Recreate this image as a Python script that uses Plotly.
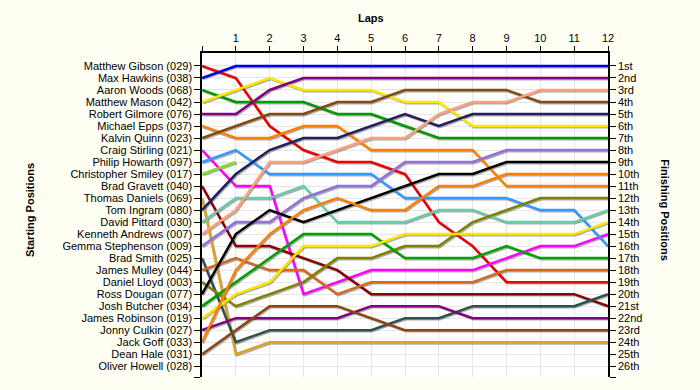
import plotly.graph_objects as go

laps = list(range(13))
lap_labels = [""] + [str(i) for i in range(1, 13)]

drivers = [
    "Matthew Gibson (029)", "Max Hawkins (038)", "Aaron Woods (068)", "Matthew Mason (042)",
    "Robert Gilmore (076)", "Michael Epps (037)", "Kalvin Quinn (023)", "Craig Stirling (021)",
    "Philip Howarth (097)", "Christopher Smiley (017)", "Brad Gravett (040)", "Thomas Daniels (069)",
    "Tom Ingram (080)", "David Pittard (030)", "Kenneth Andrews (007)", "Gemma Stephenson (009)",
    "Brad Smith (025)", "James Mulley (044)", "Daniel Lloyd (003)", "Ross Dougan (077)",
    "Josh Butcher (034)", "James Robinson (019)", "Jonny Culkin (027)", "Jack Goff (033)",
    "Dean Hale (031)", "Oliver Howell (028)",
]

finish_labels = [
    "1st", "2nd", "3rd", "4th", "5th", "6th", "7th", "8th", "9th", "10th", "11th", "12th", "13th",
    "14th", "15th", "16th", "17th", "18th", "19th", "20th", "21st", "22nd", "23rd", "24th", "25th", "26th",
]

# positions by lap (lap 0 = starting position)
gibson = [1, 2, 6, 8, 9, 9, 10, 14, 16, 19, 19, 19, 19]
hawkins = [2, 1, 1, 1, 1, 1, 1, 1, 1, 1, 1, 1, 1]
woods = [3, 4, 4, 4, 5, 5, 6, 7, 7, 7, 7, 7, 7]
mason = [4, 3, 2, 3, 3, 3, 4, 4, 6, 6, 6, 6, 6]
gilmore = [5, 5, 3, 2, 2, 2, 2, 2, 2, 2, 2, 2, 2]
epps = [6, 7, 7, 6, 6, 8, 8, 8, 8, 11, 11, 11, 11]
quinn = [7, 6, 5, 5, 4, 4, 3, 3, 3, 3, 4, 4, 4]
stirling = [8, 11, 11, 20, 19, 18, 18, 18, 18, 17, 16, 16, 15]
howarth = [9, 8, 10, 10, 10, 10, 12, 12, 12, 12, 13, 13, 16]
smiley = [10, 9, None, None, None, None, None, None, None, None, None, None, None]
gravett = [11, 16, 16, 17, 18, 20, 20, 20, 20, 20, 20, 20, 21]
daniels = [12, 25, 24, 24, 24, 24, 24, 24, 24, 24, 24, 24, 24]
ingram = [13, 10, 8, 7, 7, 6, 5, 6, 5, 5, 5, 5, 5]
pittard = [14, 12, 12, 11, 14, 14, 14, 13, 13, 14, 14, 14, 13]
andrews = [15, 13, 9, 9, 8, 7, 7, 5, 4, 4, 3, 3, 3]
stephenson = [16, 14, 14, 12, 11, 11, 9, 9, 9, 8, 8, 8, 8]
smith = [17, 24, 23, 23, 23, 23, 22, 22, 21, 21, 21, 21, 20]
mulley = [18, 17, 18, 18, 20, 19, 19, 19, 19, 18, 18, 18, 18]
lloyd = [19, 21, 20, 19, 17, 17, 16, 16, 14, 13, 12, 12, 12]
dougan = [20, 15, 13, 14, 13, 12, 11, 10, 10, 9, 9, 9, 9]
butcher = [21, 19, 17, 15, 15, 15, 17, 17, 17, 16, 17, 17, 17]
robinson = [22, 20, 19, 16, 16, 16, 15, 15, 15, 15, 15, 15, 14]
culkin = [23, 22, 22, 22, 22, 21, 21, 21, 22, 22, 22, 22, 22]
goff = [24, 18, 15, 13, 12, 13, 13, 11, 11, 10, 10, 10, 10]
hale = [25, 23, 21, 21, 21, 22, 23, 23, 23, 23, 23, 23, 23]
howell = [None] * 13

series = [gibson, hawkins, woods, mason, gilmore, epps, quinn, stirling, howarth, smiley,
          gravett, daniels, ingram, pittard, andrews, stephenson, smith, mulley, lloyd,
          dougan, butcher, robinson, culkin, goff, hale, howell]

colors = ["#EE0000", "#0000EE", "#009900", "#FFE600", "#800080", "#FF8000", "#804A10", "#FF00FF",
          "#3399FF", "#80E020", "#8B0000", "#DAA520", "#202060", "#66CDAA", "#FFA07A", "#9370DB",
          "#2F4F4F", "#D2691E", "#808000", "#000000", "#00A000", "#FFE600", "#800080", "#FF8000",
          "#8B4513", "#888888"]

fig = go.Figure()
FONT = "Liberation Sans, Arial, sans-serif"

# shadows
for vals in series:
    fig.add_trace(go.Scatter(
        x=[l + 0.03 for l in laps], y=[v + 0.1 if v is not None else None for v in vals],
        mode="lines", line=dict(color="rgba(0,0,0,0.32)", width=2.5),
        hoverinfo="skip", showlegend=False))

for name, vals, col in zip(drivers, series, colors):
    fig.add_trace(go.Scatter(
        x=laps, y=vals, mode="lines", name=name,
        line=dict(color=col, width=2.5), showlegend=False))

# invisible trace for right axis
fig.add_trace(go.Scatter(x=[0], y=[1], yaxis="y2", mode="markers",
                         marker=dict(opacity=0), hoverinfo="skip", showlegend=False))

yr = [26.9, -0.08]
fig.update_layout(
    width=700, height=390,
    margin=dict(l=202, r=92, t=53, b=13),
    paper_bgcolor="#FFFFF4", plot_bgcolor="#FFFFFF",
    font=dict(family=FONT, size=11, color="#000000"),
    xaxis=dict(range=[0, 12], side="top", tickvals=laps, ticktext=lap_labels,
               automargin=False,
               showgrid=True, gridcolor="#E6E6E6", gridwidth=1, zeroline=False,
               showline=True, linecolor="#000000", linewidth=1.5,
               ticks="outside", ticklen=5, tickcolor="#000000",
               tickfont=dict(family=FONT, size=11)),
    yaxis=dict(range=yr, tickvals=list(range(1, 27)) + [26.9], ticktext=drivers + [""],
               automargin=False,
               showgrid=True, gridcolor="#E6E6E6", gridwidth=1, zeroline=False,
               showline=True, linecolor="#000000", linewidth=1.5,
               ticks="outside", ticklen=6, tickcolor="#000000",
               tickfont=dict(family=FONT, size=11)),
    yaxis2=dict(range=yr, overlaying="y", side="right",
                automargin=False,
                tickvals=list(range(1, 27)) + [26.9], ticktext=finish_labels + [""],
                showgrid=False, zeroline=False,
                showline=True, linecolor="#000000", linewidth=1.5,
                ticks="outside", ticklen=6, tickcolor="#000000",
                tickfont=dict(family=FONT, size=11)),
    annotations=[
        dict(text="<b>Laps</b>", xref="paper", yref="paper", x=0.416, y=1.107,
             showarrow=False, font=dict(family=FONT, size=11, color="#000000"),
             xanchor="center", yanchor="middle"),
        dict(text="<b>Starting Positions</b>", xref="paper", yref="paper", x=-0.424, y=0.515,
             showarrow=False, textangle=-90, font=dict(family=FONT, size=11, color="#000000"),
             xanchor="center", yanchor="middle"),
        dict(text="<b>Finishing Positions</b>", xref="paper", yref="paper", x=1.14, y=0.515,
             showarrow=False, textangle=90, font=dict(family=FONT, size=11, color="#000000"),
             xanchor="center", yanchor="middle"),
    ],
)

fig.write_html("out.html", config={"displayModeBar": False},
               post_script="document.body.style.margin='0';document.body.style.background='#FFFFF4';")
